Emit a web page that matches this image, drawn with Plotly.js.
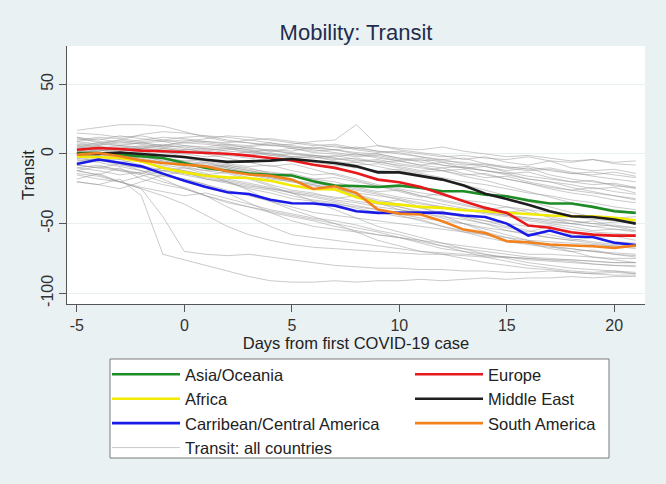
<!DOCTYPE html>
<html>
<head>
<meta charset="utf-8">
<script src="https://cdn.plot.ly/plotly-3.0.1.min.js"></script>
<style>html,body{margin:0;padding:0;background:#eaf1f3;}</style>
</head>
<body>
<div id="chart" style="width:666px;height:484px;"></div>
<script>
// Days from first COVID-19 case
var days = [-5,-4,-3,-2,-1,0,1,2,3,4,5,6,7,8,9,10,11,12,13,14,15,16,17,18,19,20,21];
var xTickVals = [-5,0,5,10,15,20];
var xTickText = ["-5","0","5","10","15","20"];
var yTickVals = [-100,-50,0,50];
var yTickText = ["-100","-50","0","50"];
var xTitle = "Days from first COVID-19 case";
var yTitle = "Transit";

// Regional averages
var asiaOceania   = [0.7,0.7,-0.5,-1.7,-2.9,-6.5,-10,-12,-14,-15,-15.5,-19.6,-22.7,-23,-23.7,-22.7,-24.4,-26.8,-26.8,-29.2,-30.4,-33.3,-35.6,-35.6,-38,-41.1,-42.3];
var africa        = [-1.7,-2.2,-2.9,-5.3,-10,-13.2,-15.6,-16.8,-17.2,-19.2,-22.7,-25.1,-25.5,-31,-35.1,-36.4,-38,-38.7,-40.4,-41.1,-42.3,-43.5,-44.2,-44.7,-44.7,-45.9,-47.6];
var caribCentral  = [-7.2,-4,-6.3,-8.9,-14.1,-19.2,-23.7,-27.5,-28.7,-32.8,-35.4,-35.6,-37.1,-41.1,-42.3,-42,-42,-42.3,-44.2,-45.2,-50,-58.6,-55,-59.3,-59.6,-63.8,-65.3];
var europe        = [3,4.3,3.6,2.4,1.9,1.2,0.5,0.2,-1.2,-2.9,-4.6,-7.7,-10,-13.6,-18.4,-20.3,-23.7,-28.7,-34,-38.7,-42.3,-51.4,-53,-56.2,-57.9,-58.6,-58.6];
var middleEast    = [0,0,1,0,-1.2,-2.2,-4.1,-5.7,-5.3,-4.8,-3.6,-4.8,-6.5,-8.9,-13.2,-13.2,-15.6,-18.4,-22.7,-28.5,-32.3,-36.4,-41.1,-44.7,-45.2,-47.1,-50];
var southAmerica  = [-0.5,0.7,-1.7,-4.6,-6.5,-7.7,-8.9,-12.4,-14.8,-15.6,-18.4,-25.1,-23.2,-28,-39.9,-42.8,-43.5,-48.3,-54.3,-56.7,-62.7,-63.4,-65,-65.7,-66.2,-67.4,-65.7];

// Individual countries (Transit: all countries)
var g1  = [15,14,12,13,10,8,9,7,6,8,5,4,6,3,1,2,0,-2,-1,-3,-4,-2,-5,-6,-4,-7,-8];
var g2  = [10,12,11,9,10,12,13,10,8,6,7,9,10,21,6,4,3,5,2,0,-2,-1,-3,-5,-4,-6,-5];
var g3  = [8,6,9,7,5,6,4,5,3,2,4,1,0,-2,-1,-4,-3,-6,-8,-7,-10,-12,-11,-14,-15,-13,-16];
var g4  = [5,7,6,8,9,6,5,7,4,3,2,5,3,1,0,-3,-5,-4,-7,-9,-12,-10,-15,-18,-20,-22,-25];
var g5  = [12,10,13,11,9,10,8,6,5,7,4,2,3,0,-2,-5,-8,-6,-10,-12,-14,-18,-20,-22,-25,-24,-28];
var g6  = [3,5,4,6,5,3,4,2,1,3,0,-1,-2,0,-3,-5,-4,-8,-10,-9,-13,-16,-18,-20,-19,-23,-24];
var g7  = [17,19,21,21,20,16,12,9,8,6,5,3,1,-1,0,-3,-6,-8,-10,-12,-15,-18,-20,-24,-27,-30,-32];
var g8  = [6,8,10,14,16,15,13,12,10,8,6,4,3,5,2,0,-2,-5,-6,-8,-10,-9,-12,-14,-13,-15,-17];
var g9  = [1,3,2,4,3,1,2,0,-1,1,-2,-3,-1,-4,-6,-5,-8,-10,-9,-12,-14,-13,-17,-20,-22,-21,-24];
var g10 = [9,11,8,10,12,11,9,8,10,11,9,7,5,4,6,3,1,-1,-4,-2,-6,-8,-5,-10,-12,-11,-14];
var g11 = [4,2,5,3,1,3,2,4,1,-1,0,-2,-4,-3,-6,-8,-10,-12,-11,-15,-18,-21,-24,-26,-28,-30,-33];
var g12 = [11,9,7,8,6,9,11,13,12,10,8,6,7,4,2,1,-2,-4,-3,-7,-9,-11,-10,-13,-16,-18,-20];
var g13 = [2,4,6,5,4,2,0,3,5,2,1,-1,-3,-5,-4,-7,-9,-12,-15,-14,-18,-21,-25,-28,-30,-33,-35];
var g14 = [7,5,3,4,6,8,7,5,3,0,-2,-1,-3,-6,-5,-9,-12,-10,-14,-17,-16,-20,-23,-26,-24,-27,-29];
var m1  = [0,-2,1,-1,-3,-5,-4,-7,-9,-8,-12,-15,-14,-18,-22,-25,-28,-30,-33,-35,-38,-40,-42,-45,-47,-48,-50];
var m2  = [-5,-3,-6,-4,-8,-10,-12,-11,-15,-18,-20,-22,-25,-28,-30,-32,-35,-38,-40,-43,-45,-48,-50,-52,-55,-54,-56];
var m3  = [5,3,0,2,-1,-3,-6,-9,-12,-15,-14,-18,-20,-24,-27,-26,-30,-34,-37,-40,-38,-42,-45,-48,-50,-52,-53];
var m4  = [-8,-10,-7,-12,-15,-13,-18,-20,-23,-25,-28,-30,-33,-35,-38,-40,-42,-45,-47,-50,-55,-58,-60,-62,-60,-63,-64];
var m5  = [-10,-12,-15,-13,-10,-14,-16,-19,-22,-25,-27,-29,-31,-34,-36,-38,-41,-43,-45,-48,-50,-52,-51,-54,-56,-57,-58];
var m6  = [2,0,-3,-1,-5,-8,-6,-10,-14,-17,-20,-23,-25,-29,-33,-36,-39,-42,-45,-48,-52,-55,-58,-61,-63,-65,-66];
var m7  = [-3,-5,-2,-6,-9,-12,-15,-13,-17,-22,-26,-28,-32,-30,-35,-40,-43,-41,-46,-50,-53,-56,-52,-58,-60,-59,-62];
var m8  = [12,8,6,4,2,-2,-5,-8,-10,-14,-16,-19,-22,-25,-28,-31,-33,-36,-39,-42,-44,-47,-49,-50,-52,-51,-53];
var m9  = [-15,-18,-20,-16,-12,-10,-14,-20,-25,-28,-32,-34,-36,-38,-40,-43,-46,-48,-50,-53,-55,-57,-60,-62,-64,-66,-67];
var m10 = [-20,-22,-25,-20,-15,-18,-22,-26,-30,-34,-38,-42,-44,-46,-48,-50,-52,-54,-56,-58,-60,-62,-63,-64,-65,-66,-68];
var m11 = [0,3,1,-2,-4,-6,-8,-11,-14,-17,-19,-21,-23,-26,-29,-33,-36,-38,-40,-42,-44,-46,-47,-48,-50,-49,-48];
var m12 = [-6,-4,-8,-10,-12,-15,-18,-21,-24,-26,-30,-33,-35,-39,-42,-45,-47,-52,-55,-58,-62,-64,-66,-68,-70,-71,-72];
var l1  = [-12,-15,-10,-18,-22,-25,-30,-35,-38,-42,-45,-48,-52,-55,-58,-60,-63,-66,-68,-70,-72,-74,-75,-76,-77,-78,-78];
var l2  = [-4,-6,-9,-12,-18,-25,-30,-34,-38,-41,-44,-47,-50,-53,-56,-60,-64,-68,-70,-72,-74,-75,-76,-77,-79,-80,-80];
var l3  = [-18,-14,-20,-24,-27,-30,-28,-32,-36,-40,-43,-46,-48,-51,-55,-58,-62,-66,-70,-74,-77,-80,-82,-84,-85,-84,-86];
var l4  = [-8,-10,-12,-14,-16,-18,-22,-28,-35,-42,-48,-52,-54,-56,-58,-60,-62,-64,-66,-68,-70,-72,-72,-73,-74,-75,-75];
var l5  = [-2,-5,-4,-8,-12,-14,-17,-20,-26,-34,-40,-45,-50,-56,-62,-66,-70,-72,-75,-78,-80,-82,-83,-85,-86,-87,-87];
var l6  = [3,1,-1,-3,-6,-9,-12,-14,-18,-23,-28,-34,-40,-46,-52,-56,-60,-64,-68,-72,-75,-78,-80,-82,-83,-84,-85];
var l7  = [-10,-8,-12,-15,-20,-24,-30,-38,-45,-52,-58,-60,-62,-64,-66,-68,-70,-71,-72,-73,-74,-76,-77,-78,-79,-80,-81];
var l8  = [-14,-16,-20,-25,-30,-36,-44,-52,-58,-62,-65,-67,-68,-69,-70,-71,-72,-72,-73,-74,-74,-75,-76,-76,-77,-78,-78];
var s1  = [-12,-15,-20,-25,-45,-70,-72,-73,-72,-74,-76,-78,-80,-81,-82,-82,-83,-83,-84,-84,-85,-85,-84,-85,-86,-85,-86];
var s2  = [-20,-22,-18,-30,-72,-76,-80,-84,-88,-91,-92,-92,-91,-92,-91,-91,-90,-91,-90,-89,-90,-89,-89,-88,-89,-88,-88];
var e1  = [0,2,4,3,1,0,-2,-1,-3,-5,-4,-6,-8,-10,-12,-11,-14,-17,-20,-22,-25,-28,-30,-33,-35,-38,-40];
var e2  = [-7,-5,-3,-4,-6,-8,-10,-9,-12,-14,-16,-18,-17,-20,-23,-26,-30,-33,-36,-40,-44,-46,-48,-50,-52,-54,-55];
var e3  = [6,4,2,5,7,4,1,-1,2,0,-3,-5,-7,-6,-9,-12,-15,-18,-22,-26,-30,-34,-38,-42,-45,-46,-45];
var e4  = [-12,-9,-11,-14,-10,-12,-15,-18,-21,-24,-28,-31,-34,-37,-40,-44,-48,-52,-56,-60,-63,-65,-67,-68,-70,-72,-73];
var e5  = [9,7,10,8,6,5,3,4,2,-1,-3,-2,-5,-8,-7,-10,-13,-12,-16,-19,-23,-27,-31,-35,-38,-40,-42];
var e6  = [-1,1,-2,0,-3,-5,-7,-10,-13,-16,-19,-22,-26,-30,-34,-38,-42,-46,-50,-54,-58,-62,-66,-70,-74,-76,-78];
var e7  = [4,6,3,1,4,2,0,-3,-6,-9,-7,-11,-15,-19,-23,-27,-31,-28,-34,-38,-42,-40,-46,-50,-48,-52,-55];
var e8  = [-3,-1,-4,-2,-5,-7,-9,-8,-11,-13,-15,-20,-25,-30,-35,-33,-38,-44,-50,-56,-60,-64,-68,-70,-69,-72,-74];

var countries = [g1,g2,g3,g4,g5,g6,g7,g8,g9,g10,g11,g12,g13,g14,m1,m2,m3,m4,m5,m6,m7,m8,m9,m10,m11,m12,l1,l2,l3,l4,l5,l6,l7,l8,s1,s2,e1,e2,e3,e4,e5,e6,e7,e8];

var regionNames = ["Asia/Oceania","Africa","Carribean/Central America","Europe","Middle East","South America"];
var regionValues = [asiaOceania, africa, caribCentral, europe, middleEast, southAmerica];
var regionColors = ["#1e8c24","#f2ea00","#1a1ae6","#e8191c","#1e1e1e","#f2821e"];
var regionLegend = ["legend","legend","legend","legend2","legend2","legend2"];
var regionRank = [1,2,3,1,2,3];
var allLabel = "Transit: all countries";

var traces = [];
countries.forEach(function(v, i){
  traces.push({
    x: days, y: v, type: "scatter", mode: "lines",
    name: allLabel, legendgroup: "all", showlegend: i === 0,
    legend: "legend", legendrank: 4,
    line: {color: "rgba(150,150,150,0.5)", width: 1},
    hoverinfo: "skip"
  });
});
regionNames.forEach(function(n, i){
  traces.push({
    x: days, y: regionValues[i], type: "scatter", mode: "lines",
    name: n, legend: regionLegend[i], legendrank: regionRank[i],
    line: {color: regionColors[i], width: 2.6}
  });
});

var W = 666, H = 484;
var pl = 67, pr = 645, pt = 46, pb = 304;
var pw = pr - pl, ph = pb - pt;
function px(xpix){ return (xpix - pl) / pw; }
function py(ypix){ return (pb - ypix) / ph; }

var FONT = "Liberation Sans, Arial, sans-serif";

var layout = {
  width: W, height: H,
  paper_bgcolor: "#eaf1f3",
  plot_bgcolor: "#ffffff",
  margin: {l: pl, r: W - pr, t: pt, b: H - pb, pad: 0, autoexpand: false},
  font: {family: FONT, color: "#333333", size: 16},
  title: {
    text: "Mobility: Transit",
    font: {family: FONT, size: 22, color: "#1f2d4d"},
    x: 0.5, xref: "paper", xanchor: "center",
    y: 1 - 32 / H, yref: "container", yanchor: "middle"
  },
  xaxis: {
    range: [-5.46, 21.43],
    tickmode: "array", tickvals: xTickVals, ticktext: xTickText,
    ticks: "outside", ticklen: 7, tickcolor: "#555555", tickwidth: 1,
    showline: true, linecolor: "#555555", linewidth: 1,
    showgrid: false, zeroline: false,
    tickfont: {size: 16, color: "#333333"},
    title: {text: xTitle, font: {size: 16.5, color: "#222222"}, standoff: 2}
  },
  yaxis: {
    range: [-107.7, 77.5],
    tickmode: "array", tickvals: yTickVals, ticktext: yTickText,
    tickangle: -90,
    ticks: "outside", ticklen: 7, tickcolor: "#555555", tickwidth: 1,
    showline: true, linecolor: "#555555", linewidth: 1,
    showgrid: true, gridcolor: "#e9f0f2", gridwidth: 1,
    zeroline: false,
    tickfont: {size: 16, color: "#333333"}
  },
  annotations: [{
    text: yTitle, xref: "paper", yref: "paper",
    x: px(28), y: 0.5, xanchor: "center", yanchor: "middle",
    textangle: -90, showarrow: false,
    font: {size: 16.5, color: "#222222"}
  }],
  showlegend: true,
  legend: {
    xref: "container", yref: "container",
    x: 107 / W, y: 1 - 357 / H, xanchor: "left", yanchor: "top",
    orientation: "v", bgcolor: "rgba(0,0,0,0)", borderwidth: 0,
    itemwidth: 68, font: {size: 16.5, color: "#222222"},
    traceorder: "normal", itemclick: false, itemdoubleclick: false
  },
  legend2: {
    xref: "container", yref: "container",
    x: 410 / W, y: 1 - 357 / H, xanchor: "left", yanchor: "top",
    orientation: "v", bgcolor: "rgba(0,0,0,0)", borderwidth: 0,
    itemwidth: 68, font: {size: 16.5, color: "#222222"},
    traceorder: "normal", itemclick: false, itemdoubleclick: false
  },
  shapes: [{
    type: "rect", xref: "paper", yref: "paper", layer: "below",
    x0: px(110), x1: px(609), y0: py(458), y1: py(359),
    fillcolor: "#ffffff", line: {color: "#7a7a7a", width: 1}
  }]
};

Plotly.newPlot("chart", traces, layout, {displayModeBar: false, staticPlot: true});
</script>
</body>
</html>
